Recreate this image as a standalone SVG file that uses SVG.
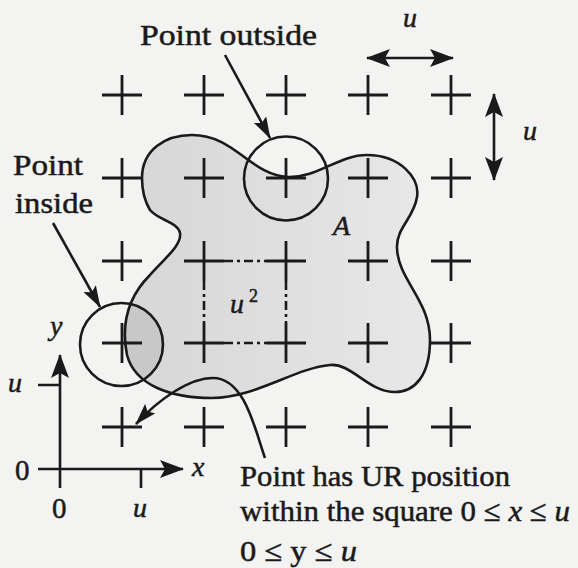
<svg xmlns="http://www.w3.org/2000/svg" width="578" height="568" viewBox="0 0 578 568">
<style>
.t{font-family:"Liberation Serif","Times New Roman",serif;fill:#1a1a1a;stroke:#1a1a1a;stroke-width:0.5}
.i{font-style:italic}
.ln{stroke:#1a1a1a;stroke-width:2.6;fill:none}
.cr{stroke:#1a1a1a;stroke-width:2.8}
.dd{stroke:#1a1a1a;stroke-width:2.6;stroke-dasharray:9 4 3 4}
</style>
<defs>
<linearGradient id="gr" x1="0" y1="0" x2="1" y2="0">
<stop offset="0" stop-color="#d6d6d6"/>
<stop offset="1" stop-color="#e8e8e8"/>
</linearGradient>
<marker id="big" viewBox="0 0 24 18" refX="23" refY="9" markerWidth="24" markerHeight="18" markerUnits="userSpaceOnUse" orient="auto-start-reverse">
<path d="M0,0 L24,9 L0,18 L5,9 z" fill="#1a1a1a"/>
</marker>
<marker id="ptr" viewBox="0 0 22 14" refX="21" refY="7" markerWidth="22" markerHeight="14" markerUnits="userSpaceOnUse" orient="auto">
<path d="M0,0 L22,7 L0,14 L4,7 z" fill="#1a1a1a"/>
</marker>
<clipPath id="cin"><circle cx="121.5" cy="344.5" r="41.5"/></clipPath>
<path id="blob" d="M142,178 C142,150 165,135 192,135 C235,135 250,175 288,177 C318,178 338,155 367,155 C400,155 420,178 417,197 C414,218 396,228 397,248 C398,280 430,300 430,340 C430,375 415,392 395,392 C368,392 352,363 330,365 C295,368 255,398 212,398 C170,398 135,385 127,355 C120,320 130,295 150,275 C165,258 182,245 180,233 C178,222 158,220 150,210 C144,200 142,190 142,178 Z"/>
</defs>
<rect width="578" height="568" fill="#f3f3f1"/>

<g id="region-A">
<use href="#blob" fill="url(#gr)"/>
<use href="#blob" fill="#c8c8c8" clip-path="url(#cin)"/>
<use href="#blob" class="ln"/>
</g>

<g id="grid">
<path class="cr" d="
M102,95h40M122,75v40 M184,95h40M204,75v40 M266,95h40M286,75v40 M348,95h40M368,75v40 M431,95h40M451,75v40
M102,178h40M122,158v40 M184,178h40M204,158v40 M266,178h40M286,158v40 M348,178h40M368,158v40 M431,178h40M451,158v40
M102,261h40M122,241v40 M184,261h40M204,241v40 M266,261h40M286,241v40 M348,261h40M368,241v40 M431,261h40M451,241v40
M102,343h40M122,323v40 M184,343h40M204,323v40 M266,343h40M286,323v40 M348,343h40M368,323v40 M431,343h40M451,323v40
M102,427h40M122,407v40 M184,427h40M204,407v40 M266,427h40M286,407v40 M348,427h40M368,407v40 M431,427h40M451,407v40"/>
</g>

<g id="unit-square">
<path class="dd" d="M224,261H266 M224,343H266 M204,281V323 M286,281V323"/>
<text class="t i" x="230" y="313" font-size="28">u</text>
<text class="t" x="249" y="302" font-size="18">2</text>
</g>

<g id="circle-outside"><circle class="ln" cx="286" cy="178.5" r="42"/></g>
<g id="circle-inside"><circle class="ln" cx="121.5" cy="344.5" r="41.5"/></g>

<g id="axes">
<path class="ln" d="M38,469H183" marker-end="url(#big)"/>
<path class="ln" d="M60,488V355" marker-end="url(#big)"/>
<path class="ln" d="M38,385H60 M141,469V488"/>
</g>

<g id="scale-arrows">
<path class="ln" d="M367,58H453" marker-start="url(#big)" marker-end="url(#big)"/>
<path class="ln" d="M494,94V180" marker-start="url(#big)" marker-end="url(#big)"/>
</g>

<g id="connectors">
<path class="ln" d="M225,55L270,138" marker-end="url(#ptr)"/>
<path class="ln" d="M53,223L100,307" marker-end="url(#ptr)"/>
<path class="ln" d="M265,458 C255,430 245,378 213,378 C190,378 160,398 136,424" marker-end="url(#ptr)"/>
</g>

<g id="labels">
<text class="t" x="140" y="45" font-size="30" textLength="177" lengthAdjust="spacingAndGlyphs">Point outside</text>
<text class="t" x="13" y="175" font-size="30" textLength="70" lengthAdjust="spacingAndGlyphs">Point</text>
<text class="t" x="15" y="213" font-size="30" textLength="78" lengthAdjust="spacingAndGlyphs">inside</text>
<text class="t i" x="403" y="27" font-size="28">u</text>
<text class="t i" x="523" y="140" font-size="28">u</text>
<text class="t i" x="333" y="235" font-size="28">A</text>
<text class="t i" x="50" y="335" font-size="28">y</text>
<text class="t i" x="8" y="392" font-size="28">u</text>
<text class="t" x="15" y="480" font-size="29">0</text>
<text class="t i" x="192" y="476" font-size="28">x</text>
<text class="t" x="52" y="518" font-size="29">0</text>
<text class="t i" x="133" y="517" font-size="28">u</text>
<text class="t" x="240" y="486" font-size="30" textLength="270" lengthAdjust="spacingAndGlyphs">Point has UR position</text>
<text class="t" x="240" y="521" font-size="30" textLength="330" lengthAdjust="spacingAndGlyphs">within the square 0 ≤ <tspan class="i">x</tspan> ≤ <tspan class="i">u</tspan></text>
<text class="t" x="240" y="561" font-size="30" textLength="117" lengthAdjust="spacingAndGlyphs">0 ≤ y ≤ <tspan class="i">u</tspan></text>
</g>
</svg>
